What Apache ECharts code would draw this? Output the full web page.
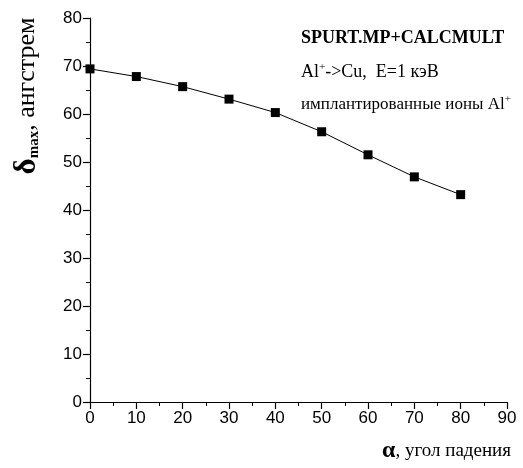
<!DOCTYPE html>
<html>
<head>
<meta charset="utf-8">
<script src="https://cdn.jsdelivr.net/npm/echarts@6/dist/echarts.min.js"></script>
<style>
  html, body { margin: 0; padding: 0; background: #fff; }
  #chart { width: 523px; height: 468px; }
</style>
</head>
<body>
<div id="chart"></div>
<script>
// угол падения, градусы
var angles = [0, 10, 20, 30, 40, 50, 60, 70, 80];
// delta max, ангстрем
var deltaMax = [69.4, 67.8, 65.7, 63.1, 60.3, 56.3, 51.5, 46.9, 43.2];
var xTicks = [0, 10, 20, 30, 40, 50, 60, 70, 80, 90];
var yTicks = [0, 10, 20, 30, 40, 50, 60, 70, 80];

var serif = '"Liberation Serif", "DejaVu Serif", serif';
var sans = '"Liberation Sans", Arial, sans-serif';

var chart = echarts.init(document.getElementById('chart'));

var points = [];
for (var i = 0; i < angles.length; i++) {
    points.push([angles[i], deltaMax[i]]);
}

var axisCommon = {
    axisLine: { show: true, lineStyle: { color: '#000', width: 1.2 } },
    axisTick: { show: true, inside: false, length: 7, lineStyle: { color: '#000', width: 1.2 } },
    minorTick: { show: true, splitNumber: 2, length: 4, lineStyle: { color: '#000', width: 1 } },
    splitLine: { show: false },
    axisLabel: { color: '#000', fontFamily: sans, fontSize: 17 }
};

var supStyle = { fontSize: 11, fontFamily: serif, verticalAlign: 'top', padding: [0, 0, 10, 0] };

option = {
    animation: false,
    grid: { left: 90, right: 16, top: 18, bottom: 66 },
    xAxis: echarts.util.merge({
        type: 'value',
        min: xTicks[0],
        max: xTicks[xTicks.length - 1],
        interval: 10,
        axisLabel: { margin: 8 }
    }, axisCommon, true),
    yAxis: echarts.util.merge({
        type: 'value',
        min: yTicks[0],
        max: yTicks[yTicks.length - 1],
        interval: 10,
        axisLabel: { margin: 8 }
    }, axisCommon, true),
    graphic: [
        {
            type: 'text',
            left: 301, top: 29,
            style: { text: 'SPURT.MP+CALCMULT', font: 'bold 18px ' + serif, fill: '#000' }
        },
        {
            type: 'text',
            left: 301, top: 62,
            style: {
                text: 'Al{sup|+}->Cu,  E=1 кэВ',
                font: '18px ' + serif, fill: '#000',
                rich: { sup: supStyle }
            }
        },
        {
            type: 'text',
            left: 301, top: 94,
            style: {
                text: 'имплантированные ионы Al{sup|+}',
                font: '17px ' + serif, fill: '#000',
                rich: { sup: supStyle }
            }
        },
        {
            type: 'text',
            x: 27, y: 96,
            rotation: Math.PI / 2,
            style: {
                text: '{d|δ}{m|max}{t|, ангстрем}',
                align: 'center', verticalAlign: 'middle', fill: '#000',
                rich: {
                    d: { fontSize: 31, fontFamily: serif, fontWeight: 'bold' },
                    m: { fontSize: 15, fontFamily: serif, fontWeight: 'bold', padding: [14, 0, 0, 0] },
                    t: { fontSize: 26, fontFamily: serif }
                }
            }
        },
        {
            type: 'text',
            right: 12, top: 439,
            style: {
                text: '{a|α}{t|, угол падения}',
                fill: '#000',
                rich: {
                    a: { fontSize: 24, fontFamily: serif, fontWeight: 'bold' },
                    t: { fontSize: 19, fontFamily: serif }
                }
            }
        }
    ],
    series: [
        {
            type: 'line',
            data: points,
            symbol: 'rect',
            symbolSize: 9,
            itemStyle: { color: '#000' },
            lineStyle: { color: '#000', width: 1 }
        }
    ]
};

chart.setOption(option);
window.onresize = chart.resize;
</script>
</body>
</html>
